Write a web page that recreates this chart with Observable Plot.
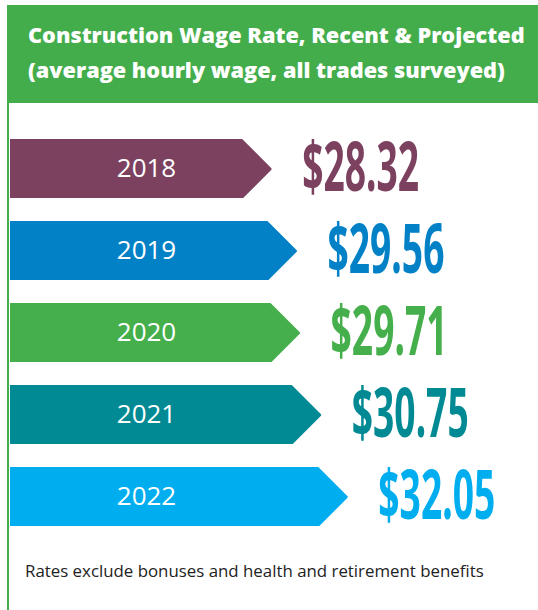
<!DOCTYPE html>
<html><head><meta charset="utf-8">
<script src="https://cdn.jsdelivr.net/npm/d3@7"></script>
<script src="https://cdn.jsdelivr.net/npm/@observablehq/plot@0.6"></script>
<style>
body{margin:0;background:#fff;}
#wrap{position:relative;width:538px;height:610px;overflow:hidden;font-family:"Open Sans",sans-serif;background:#fff;}
#header{position:absolute;left:7px;top:5px;width:531px;height:98px;background:#44AD4B;color:#fff;}
#header div{position:absolute;left:21px;white-space:nowrap;}
#vline{position:absolute;left:7px;top:103px;width:2px;height:507px;background:#44AD4B;}
#chart{position:absolute;left:0;top:103px;}
#caption{position:absolute;left:25px;white-space:nowrap;color:#222;font-weight:400;}
</style></head>
<body>
<div id="wrap">
  <div id="header"><div id="t1"></div><div id="t2"></div></div>
  <div id="vline"></div>
  <div id="chart"></div>
  <div id="caption"></div>
</div>
<script>
// ---- data ----
const titleLines = ["Construction Wage Rate, Recent & Projected", "(average hourly wage, all trades surveyed)"];
const captionText = "Rates exclude bonuses and health and retirement benefits";
const years = ["2018", "2019", "2020", "2021", "2022"];
const wages = [28.32, 29.56, 29.71, 30.75, 32.05];
const barColors = ["#7C415F", "#0381C7", "#45AF4B", "#018A93", "#00AEEF"];

const data = years.map((y, i) => ({year: y, wage: wages[i], label: "$" + wages[i].toFixed(2)}));

// ---- text fitting helper ----
const ctx = document.createElement("canvas").getContext("2d");
function fitSize(text, weight, family, target, base = 20) {
  ctx.font = `${weight} ${base}px ${family}`;
  return base * target / ctx.measureText(text).width;
}
const fam = '"Open Sans", sans-serif';
const titleWeight = 800;
const tfs = fitSize(titleLines[0], titleWeight, fam, 497);
const t1 = document.getElementById("t1"), t2 = document.getElementById("t2");
[t1, t2].forEach((el, i) => {
  el.textContent = titleLines[i];
  el.style.fontSize = tfs + "px";
  el.style.lineHeight = tfs + "px";
  el.style.fontWeight = titleWeight;
});
t1.style.top = (43.5 - 5 - 0.888 * tfs) + "px";
t2.style.top = (78 - 5 - 0.888 * tfs) + "px";

const cap = document.getElementById("caption");
const cfs = fitSize(captionText, 400, fam, 459);
cap.textContent = captionText;
cap.style.fontSize = cfs + "px";
cap.style.lineHeight = cfs + "px";
cap.style.top = (578 - 0.888 * cfs) + "px";

// ---- chart ----
const xStart = 15.5;
const tip = 30; // half bar height, px
// white corner cut-outs that turn each bar's right end into an arrow point
const cornerCuts = {
  draw(c) {
    c.moveTo(-tip, -tip);
    c.lineTo(-tip, -tip - 2);
    c.lineTo(2, -tip - 2);
    c.lineTo(2, 0);
    c.lineTo(0, 0);
    c.closePath();
    c.moveTo(-tip, tip);
    c.lineTo(0, 0);
    c.lineTo(2, 0);
    c.lineTo(2, tip + 2);
    c.lineTo(-tip, tip + 2);
    c.closePath();
  }
};

const chart = Plot.plot({
  width: 538,
  height: 440,
  margin: 0,
  style: {background: "transparent", overflow: "visible"},
  x: {domain: [xStart, 41.5], range: [10, 10 + 26 * 20.41], axis: null},
  y: {domain: years, range: [34, 426], paddingInner: 0.277, paddingOuter: 0, axis: null},
  color: {domain: years, range: barColors},
  marks: [
    Plot.barX(data, {x1: xStart, x2: "wage", y: "year", fill: "year"}),
    Plot.dot(data, {x: "wage", y: "year", fill: "#ffffff", stroke: "none", symbol: cornerCuts, r: 10}),
    Plot.text(data, {y: "year", text: "year", frameAnchor: "left", dx: 146, textAnchor: "middle",
      fill: "#ffffff", fontSize: 26, fontFamily: fam, fontWeight: 400}),
    Plot.text(data, {x: "wage", y: "year", text: "label", dx: 30, textAnchor: "start",
      fill: "year", fontSize: 68, fontWeight: 700,
      fontFamily: '"Noto Sans", "Open Sans", sans-serif'})
  ]
});
document.getElementById("chart").appendChild(chart);

// condensed, tall numerals for the value labels
const valueTexts = Array.from(chart.querySelectorAll("text")).filter(t => t.textContent.trim().startsWith("$"));
valueTexts.forEach(t => { t.style.fontStretch = "62.5%"; });
if (valueTexts.length) {
  const k = 117 / valueTexts[0].getBBox().width;
  valueTexts.forEach(t => {
    const ox = +(t.getAttribute("x") || 0);
    const prev = t.getAttribute("transform") || "";
    t.setAttribute("transform", `${prev} translate(${ox},0) scale(${k},1) translate(${-ox},0)`);
  });
}
</script>
</body></html>
